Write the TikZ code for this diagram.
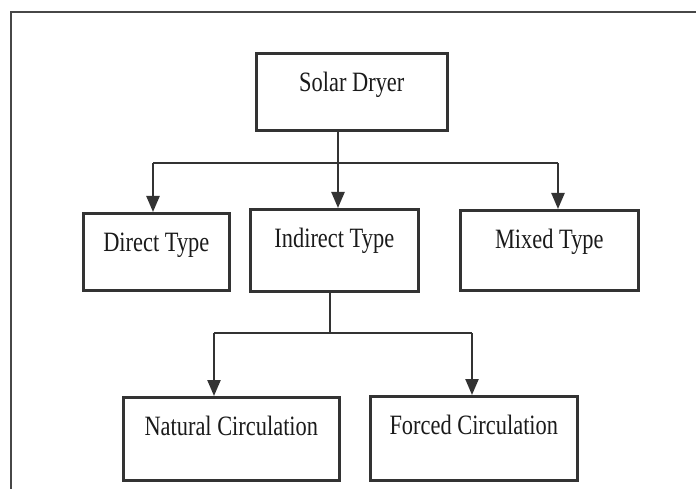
\documentclass[tikz,border=0pt]{standalone}
\usepackage{fontspec}
\setmainfont{Liberation Serif}
\usetikzlibrary{arrows.meta}
\newcommand\narrowtext[1]{\scalebox{0.8}[1]{#1}}
\definecolor{ink}{HTML}{333333}
\definecolor{txt}{HTML}{1A1A1A}
\tikzset{
  box/.style={draw=ink, line width=2.6pt, inner sep=0pt, anchor=north west,
    text=txt, font=\fontsize{28}{30}\selectfont, text height=18pt},
  conn/.style={draw=ink, line width=2.3pt},
  arrowc/.style={conn, -{Triangle[length=16pt,width=13pt]}},
  frame/.style={draw=ink!90, line width=2.2pt}
}
\begin{document}
\begin{tikzpicture}[x=1pt,y=-1pt]
\useasboundingbox (0,0) rectangle (696,489);
% outer frame
\draw[frame] (11,489) -- (11,12) -- (696,12);

% boxes (text baseline sits 38pt below the top edge)
\node[box, minimum width=191pt, minimum height=77pt, text depth=19pt] (solar) at (255,52) {\narrowtext{Solar Dryer}};
\node[box, minimum width=146pt, minimum height=77pt, text depth=19pt] (direct) at (82,212) {\narrowtext{Direct Type}};
\node[box, minimum width=168pt, minimum height=82pt, text depth=24pt] (indirect) at (249,208) {\narrowtext{Indirect Type}};
\node[box, minimum width=178pt, minimum height=80pt, text depth=22pt] (mixed) at (459,209) {\narrowtext{Mixed Type}};
\node[box, minimum width=216pt, minimum height=83pt, text depth=25pt] (natural) at (122,396) {\narrowtext{Natural Circulation}};
\node[box, minimum width=207pt, minimum height=84pt, text depth=26pt] (forced) at (369,395) {\narrowtext{Forced Circulation}};

% first level branching
\coordinate (jL) at (153,163);
\coordinate (jM) at (338,163);
\coordinate (jR) at (558,163);
\draw[conn] (jL) -- (jR);
\draw[arrowc] (solar.south -| jM) -- (indirect.north -| jM);
\draw[arrowc] (jL) -- (direct.north -| jL);
\draw[arrowc] (jR) -- (mixed.north -| jR);

% second level branching
\coordinate (kL) at (214,333);
\coordinate (kM) at (330,333);
\coordinate (kR) at (472,333);
\draw[conn] (indirect.south -| kM) -- (kM);
\draw[conn] (kL) -- (kR);
\draw[arrowc] (kL) -- (natural.north -| kL);
\draw[arrowc] (kR) -- (forced.north -| kR);
\end{tikzpicture}
\end{document}
